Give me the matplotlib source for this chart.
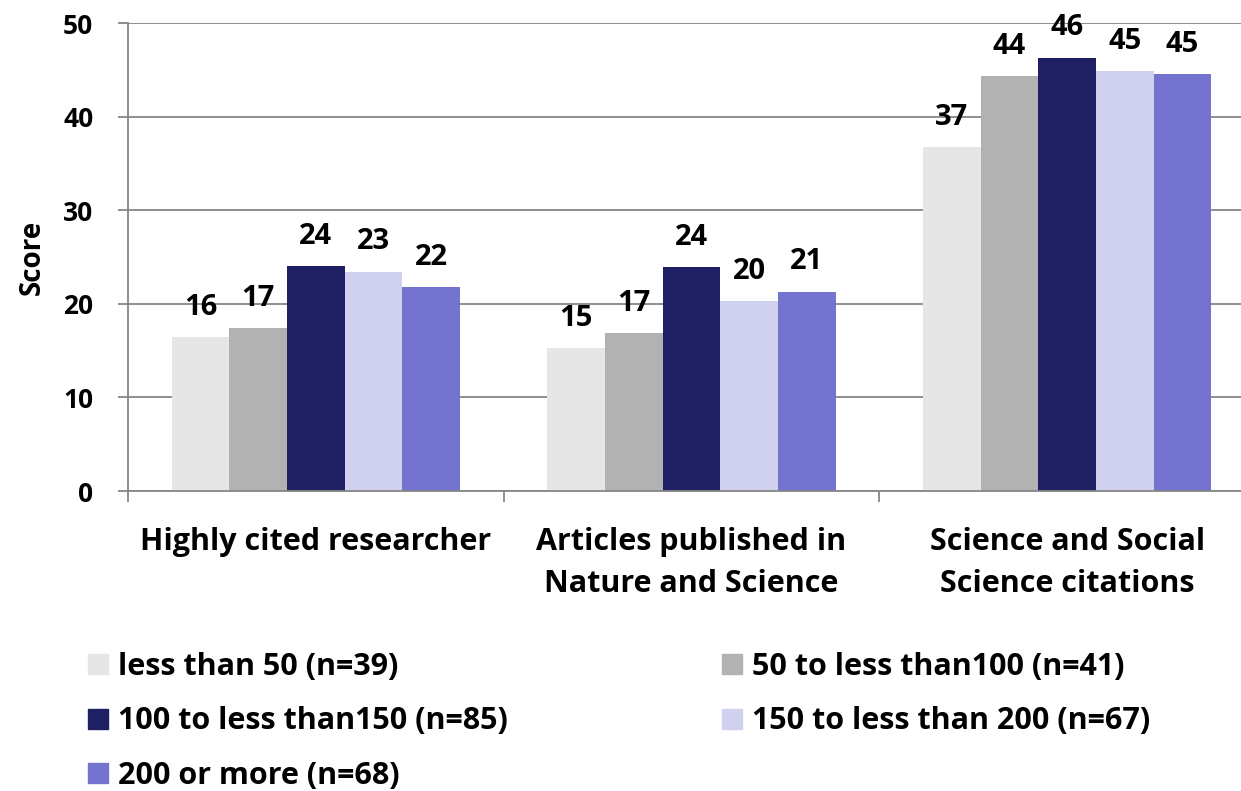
import matplotlib
matplotlib.use('Agg')
import matplotlib.pyplot as plt
import matplotlib.patches as mpatches
import numpy as np

plt.rcParams['font.family'] = ['Open Sans', 'DejaVu Sans']
plt.rcParams['font.weight'] = 'bold'

# data
categories = ['Highly cited researcher',
              'Articles published in\nNature and Science',
              'Science and Social\nScience citations']
series = ['less than 50 (n=39)', '50 to less than100 (n=41)',
          '100 to less than150 (n=85)', '150 to less than 200 (n=67)',
          '200 or more (n=68)']
less_than_50 = [16.45, 15.3, 36.75]
from_50_to_100 = [17.4, 16.9, 44.3]
from_100_to_150 = [24.0, 23.9, 46.3]
from_150_to_200 = [23.45, 20.3, 44.9]
over_200 = [21.8, 21.3, 44.55]
values = [less_than_50, from_50_to_100, from_100_to_150, from_150_to_200, over_200]
colors = ['#E6E6E6', '#B2B2B2', '#1F1F63', '#D0D1EF', '#7473D0']

fig = plt.figure(figsize=(12.41, 7.91), dpi=100)
ax = fig.add_axes([128/1241, 1-491/791, 1127/1241, 468/791])

x = np.arange(len(categories))
bw = 0.1536
for i, (vals, c) in enumerate(zip(values, colors)):
    pos = x + (i - 2) * bw
    ax.bar(pos, vals, width=bw, color=c, label=series[i], zorder=2)
    for p, v in zip(pos, vals):
        ax.annotate(f'{v:.0f}', (p, v), xytext=(0, 16), textcoords='offset points',
                    ha='center', va='baseline', fontsize=21, fontweight='bold',
                    color='black')

ax.set_xlim(-0.5, 2.5)
ax.set_ylim(0, 50)
ax.set_yticks(range(0, 51, 10))
ax.yaxis.grid(True, color='#868686', lw=1.3, zorder=0)
ax.set_axisbelow(True)
ax.set_xticks([-0.5, 0.5, 1.5, 2.5])
ax.set_xticklabels([])
ax.set_xticks(x, minor=True)
ax.set_xticklabels(categories, minor=True, fontsize=22, fontweight='bold',
                   linespacing=1.52)
ax.tick_params(axis='x', which='minor', length=0, pad=26)
ax.tick_params(axis='x', which='major', length=8, color='#868686', width=1.3)
ax.tick_params(axis='y', length=7, color='#868686', width=1.3, labelsize=19, pad=18)
for lbl in ax.get_yticklabels():
    lbl.set_fontweight('bold')
for s in ['top', 'right']:
    ax.spines[s].set_visible(False)
for s in ['left', 'bottom']:
    ax.spines[s].set_color('#868686')
    ax.spines[s].set_linewidth(1.3)
ax.set_ylabel('Score', fontsize=20, fontweight='bold', labelpad=12)

handles = [mpatches.Patch(color=c, label=s) for c, s in zip(colors, series)]
order = [0, 2, 4, 1, 3]
fig.legend([handles[i] for i in order], [series[i] for i in order],
           loc='upper left', bbox_to_anchor=(88/1241, 1-652/791), ncol=2,
           frameon=False, fontsize=22, handlelength=0.65, handleheight=0.65,
           handletextpad=0.33, columnspacing=7.0, labelspacing=0.8,
           borderpad=0, borderaxespad=0)

fig.savefig('out.png', dpi=100)
